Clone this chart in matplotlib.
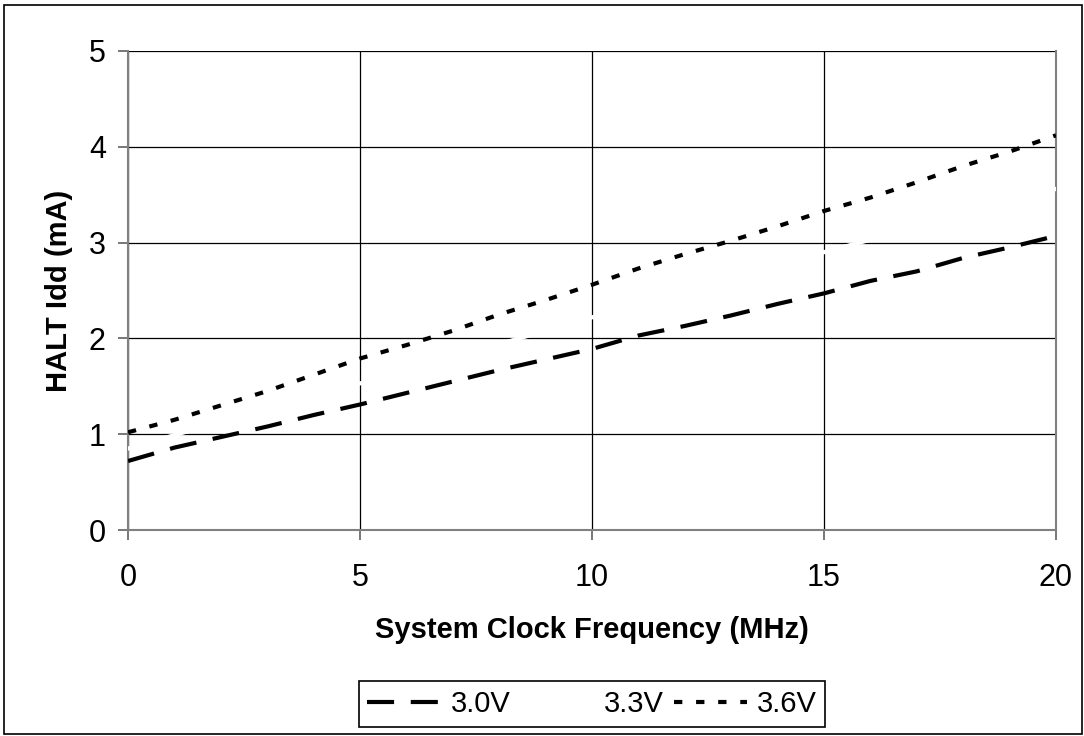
import matplotlib
matplotlib.use("Agg")
import matplotlib.pyplot as plt
from matplotlib.lines import Line2D
from matplotlib.patches import Rectangle

plt.rcParams['font.family'] = ['Liberation Sans', 'DejaVu Sans']

freq = [0, 1, 2, 3, 4, 5, 6, 7, 8, 9, 10, 11, 12, 13, 14, 15, 16, 17, 18, 19, 20]
idd_30 = [0.72, 0.86, 0.97, 1.08, 1.20, 1.31, 1.43, 1.55, 1.67, 1.78, 1.89,
          2.03, 2.13, 2.24, 2.36, 2.47, 2.60, 2.70, 2.84, 2.95, 3.07]
idd_33 = [0.85, 0.99, 1.13, 1.26, 1.40, 1.53, 1.67, 1.80, 1.94, 2.08, 2.22,
          2.36, 2.50, 2.63, 2.77, 2.90, 3.03, 3.16, 3.30, 3.43, 3.56]
idd_36 = [1.02, 1.15, 1.30, 1.45, 1.62, 1.79, 1.93, 2.08, 2.25, 2.40, 2.56,
          2.73, 2.88, 3.02, 3.17, 3.33, 3.47, 3.63, 3.80, 3.95, 4.12]
series_labels = ['3.0V', '3.3V', '3.6V']
x_ticks = [0, 5, 10, 15, 20]
y_ticks = [0, 1, 2, 3, 4, 5]

W, H = 1084, 736
fig = plt.figure(figsize=(W / 100, H / 100), dpi=100)
ax = fig.add_axes([128 / W, 1 - 530 / H, (1056 - 128) / W, (530 - 51) / H])

lw = 3.0
ax.plot(freq, idd_30, color='black', lw=lw, dashes=(6.5, 4.0),
        label=series_labels[0], zorder=3)
ax.plot(freq, idd_33, color='white', lw=lw, label=series_labels[1], zorder=3)
ax.plot(freq, idd_36, color='black', lw=lw, dashes=(2.0, 3.3),
        label=series_labels[2], zorder=3)

ax.set_xlim(0, 20)
ax.set_ylim(0, 5)
ax.set_xticks(x_ticks)
ax.set_yticks(y_ticks)
ax.grid(True, color='black', lw=0.9, zorder=1)
ax.set_axisbelow(True)
for s in ['left', 'bottom', 'right']:
    ax.spines[s].set_color('#808080')
    ax.spines[s].set_linewidth(1.5)
ax.spines['top'].set_visible(False)
ax.tick_params(axis='both', direction='out', length=7, width=1.2, color='#606060',
               labelsize=22)
ax.tick_params(axis='x', pad=17)
ax.tick_params(axis='y', pad=9)

ax.set_xlabel('System Clock Frequency (MHz)', fontsize=21, fontweight='bold', labelpad=16)
ax.set_ylabel('HALT Idd (mA)', fontsize=21, fontweight='bold', labelpad=11)

handles = [Line2D([], [], color='black', lw=lw, dashes=(6.5, 4.0)),
           Line2D([], [], color='white', lw=lw),
           Line2D([], [], color='black', lw=lw, dashes=(2.0, 3.3))]
leg = fig.legend(handles, series_labels, loc='center',
                 bbox_to_anchor=((360 + 824) / 2 / W, 1 - 704 / H),
                 ncol=3, fontsize=21, frameon=True, fancybox=False,
                 edgecolor='black', framealpha=1, handlelength=2.5,
                 handletextpad=0.35, columnspacing=0.35, borderpad=0.3,
                 borderaxespad=0)
leg.get_frame().set_linewidth(1.2)

fig.patches.append(Rectangle((4 / W, 2 / H), (W - 6) / W, (H - 7) / H,
                             transform=fig.transFigure, fill=False,
                             edgecolor='black', lw=1.2))

fig.savefig('out.png', dpi=100, facecolor='white')
